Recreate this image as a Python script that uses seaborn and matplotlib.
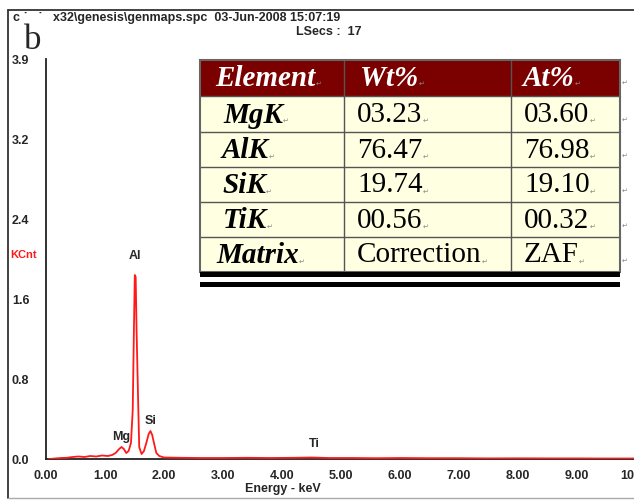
import matplotlib
matplotlib.use("Agg")
import matplotlib.pyplot as plt
import seaborn as sns
import numpy as np
from matplotlib.patches import Rectangle

# ---------------- data ----------------
energy = [0.05, 0.15, 0.25, 0.35, 0.45, 0.55, 0.65, 0.75, 0.85, 0.95, 1.05, 1.12,
          1.18, 1.24, 1.28, 1.32, 1.36, 1.40, 1.44, 1.47, 1.49, 1.505, 1.52, 1.535,
          1.55, 1.565, 1.58, 1.62, 1.66, 1.70, 1.74, 1.77, 1.80, 1.83, 1.87, 1.92,
          2.00, 2.3, 2.6, 3.0, 3.4, 3.8, 4.2, 4.5, 4.8, 5.2, 5.6, 6.0, 6.5, 7.0,
          7.5, 8.0, 8.5, 9.0, 9.5, 10.0]
counts = [0.00, 0.005, 0.01, 0.012, 0.02, 0.025, 0.02, 0.03, 0.025, 0.035, 0.03, 0.04,
          0.06, 0.10, 0.12, 0.10, 0.06, 0.08, 0.16, 0.49, 1.29, 1.84, 1.82, 1.29,
          0.89, 0.49, 0.12, 0.05, 0.08, 0.16, 0.25, 0.28, 0.24, 0.16, 0.06, 0.03,
          0.015, 0.012, 0.01, 0.01, 0.012, 0.01, 0.012, 0.015, 0.01, 0.01, 0.008, 0.01,
          0.008, 0.008, 0.006, 0.007, 0.006, 0.006, 0.005, 0.005]

peak_labels = ["Al", "Si", "Mg", "Ti"]
peak_energy = [1.51, 1.77, 1.28, 4.55]
peak_height = [1.97, 0.32, 0.16, 0.09]

xtick_vals = [0, 1, 2, 3, 4, 5, 6, 7, 8, 9, 10]
xtick_labels = ["0.00", "1.00", "2.00", "3.00", "4.00", "5.00", "6.00", "7.00", "8.00", "9.00", "10.00"]
ytick_vals = [0.0, 0.8, 1.6, 2.4, 3.2, 4.0]
ytick_labels = ["0.0", "0.8", "1.6", "2.4", "3.2", "3.9"]

table_header = ["Element", "Wt%", "At%"]
elements = ["MgK", "AlK", "SiK", "TiK", "Matrix"]
wt_pct = ["03.23", "76.47", "19.74", "00.56", "Correction"]
at_pct = ["03.60", "76.98", "19.10", "00.32", "ZAF"]

# ---------------- figure ----------------
sns.set_theme(style="white")
plt.rcParams["font.family"] = ["Liberation Sans", "DejaVu Sans"]

W, H = 634, 501
fig = plt.figure(figsize=(W / 100, H / 100), dpi=100)
fig.patch.set_facecolor("white")

x0, y0 = 46, 459
ppk = 59.0
ax = fig.add_axes([x0 / W, 1 - y0 / H, (10 * ppk) / W, 400 / H])
ax.set_facecolor("white")
sns.lineplot(x=energy, y=counts, color="#ff1a1a", lw=1.3, ax=ax,
             estimator=None, sort=False, zorder=3)
ax.set_xlim(0, 10)
ax.set_ylim(0, 4.0)
ax.set_xticks(xtick_vals)
ax.set_xticklabels(xtick_labels, fontweight="bold", fontsize=9)
ax.set_yticks(ytick_vals)
ax.set_yticklabels(ytick_labels, fontweight="bold", fontsize=9)
ax.tick_params(axis="both", direction="out", length=6, width=1.2, color="#222222")
ax.tick_params(axis="x", pad=2)
ax.tick_params(axis="y", pad=6)
for s in ["top", "right"]:
    ax.spines[s].set_visible(False)
for s in ["left", "bottom"]:
    ax.spines[s].set_visible(True)
    ax.spines[s].set_color("#222222")
    ax.spines[s].set_linewidth(1.3)
ax.set_xlabel("")
ax.set_ylabel("")
ax.grid(False)

for lab, e, h in zip(peak_labels, peak_energy, peak_height):
    ax.text(e, h, lab, ha="center", va="bottom", fontsize=9, fontweight="bold")

# ---------------- overlay (frame, header texts, table) ----------------
ov = fig.add_axes([0, 0, 1, 1], facecolor="none")
ov.set_xlim(0, W)
ov.set_ylim(H, 0)
ov.axis("off")

# outer frame
ov.plot([8, 8], [10, 498], color="#333333", lw=1.3)
ov.plot([8, W], [10, 10], color="#333333", lw=1.3)
ov.plot([8, W], [498, 498], color="#aaaaaa", lw=1.0)

ov.text(13, 18, "c \u02d9   \u02d9   x32\\genesis\\genmaps.spc  03-Jun-2008 15:07:19",
        fontsize=9, fontweight="bold", va="center", ha="left")
ov.text(296, 32, "LSecs :  17", fontsize=9, fontweight="bold", va="center", ha="left")
ov.text(24, 40, "b", fontsize=25, family="Liberation Serif", va="center", ha="left")
ov.text(10, 255, "KCnt", fontsize=8, fontweight="bold", color="#ff1a1a", va="center", ha="left")
ov.text(283, 489, "Energy - keV", fontsize=9, fontweight="bold", va="center", ha="center")

# table
tx0, tx1 = 200, 620
col_x = [200, 344, 511, 620]
row_y = [60, 96, 132, 167, 202, 237, 272]
ov.add_patch(Rectangle((tx0, row_y[0]), tx1 - tx0, row_y[1] - row_y[0],
                       facecolor="#7b0000", edgecolor="none", zorder=1))
ov.add_patch(Rectangle((tx0, row_y[1]), tx1 - tx0, row_y[-1] - row_y[1],
                       facecolor="#ffffe2", edgecolor="none", zorder=1))
for yy in row_y[1:-1]:
    ov.plot([tx0, tx1], [yy, yy], color="#555555", lw=1.0, zorder=2)
for xx in col_x[1:-1]:
    ov.plot([xx, xx], [row_y[0], row_y[-1]], color="#555555", lw=1.0, zorder=2)
ov.add_patch(Rectangle((tx0, row_y[0]), tx1 - tx0, row_y[-1] - row_y[0],
                       facecolor="none", edgecolor="#666666", lw=1.5, zorder=3))
ov.add_patch(Rectangle((tx0, 272), tx1 - tx0, 5, facecolor="black", edgecolor="none", zorder=4))
ov.add_patch(Rectangle((tx0, 282), tx1 - tx0, 5, facecolor="black", edgecolor="none", zorder=4))

serif = ["Liberation Serif", "DejaVu Serif"]
fs = 21
mark_kw = dict(fontsize=5, color="#888888", family=["DejaVu Sans"], va="bottom", ha="left", zorder=5)

fig.canvas.draw()
rend = fig.canvas.get_renderer()
inv = ov.transData.inverted()

def put(x, y, txt, **kw):
    t = ov.text(x, y, txt, va="center", ha="left", zorder=5, **kw)
    bb = t.get_window_extent(renderer=rend)
    xe = inv.transform((bb.x1, bb.y0))[0]
    ov.text(xe, y + 9, "\u21b5", **mark_kw)

hdr_x = [215, 360, 523]
hy = (row_y[0] + row_y[1]) / 2
for txt, xx in zip(table_header, hdr_x):
    put(xx, hy, txt, fontsize=fs, family=serif, fontweight="bold", style="italic", color="white")
ov.text(622, hy + 8, "\u21b5", **mark_kw)

elem_x = [223, 222, 222, 223, 216]
for i in range(len(elements)):
    cy = (row_y[i + 1] + row_y[i + 2]) / 2 + 1
    put(elem_x[i], cy, elements[i], fontsize=fs, family=serif, fontweight="bold",
        style="italic", color="black")
    put(357, cy, wt_pct[i], fontsize=fs, family=serif, color="black")
    put(524, cy, at_pct[i], fontsize=fs, family=serif, color="black")
    ov.text(622, cy + 8, "\u21b5", **mark_kw)

fig.savefig("out.png", dpi=100)
